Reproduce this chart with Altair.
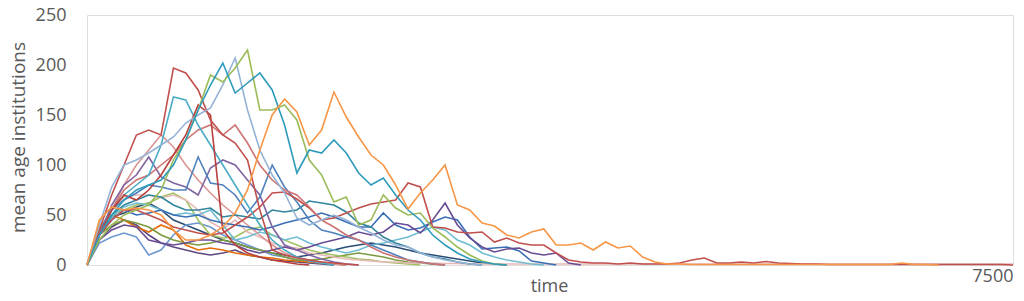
import altair as alt
import pandas as pd

STEP = 100  # time units between samples

# series values (mean age institutions), sampled every 100 time units
dpurple = [0, 25, 38, 45, 40, 30, 22, 18, 15, 12, 10, 12, 15, 10, 8, 5, 4, 3, 2, 1, 0]
dkblue = [0, 32, 48, 52, 58, 62, 55, 45, 40, 35, 30, 25, 22, 18, 15, 12, 10, 8, 10, 12, 15, 18, 20, 22, 20, 18, 15, 12, 10, 8, 6, 4, 2, 1, 0]
lblue = [0, 22, 28, 32, 28, 10, 15, 30, 40, 42, 38, 30, 25, 20, 15, 10, 8, 5, 3, 2, 1, 0]
dorange = [0, 38, 50, 45, 38, 33, 40, 35, 20, 15, 17, 15, 12, 10, 8, 7, 5, 4, 3, 2, 1, 0]
green3 = [0, 30, 40, 45, 42, 38, 30, 25, 22, 20, 22, 25, 22, 18, 15, 12, 8, 5, 5, 6, 8, 10, 12, 10, 8, 5, 3, 2, 1, 0]
green2 = [0, 35, 50, 55, 60, 62, 68, 72, 65, 45, 30, 27, 28, 35, 38, 30, 25, 20, 15, 12, 10, 8, 6, 5, 3, 2, 1, 0]
lpink = [0, 35, 55, 68, 70, 70, 67, 70, 65, 55, 43, 36, 45, 33, 28, 22, 18, 17, 12, 10, 8, 6, 5, 4, 3, 3, 2, 2, 2, 1.5,
         1.5, 1, 1, 1, 1, 1, 1, 1, 1, 1, 1, 1, 1, 1, 1, 1, 1, 1, 1, 1, 1, 1, 1, 1, 1, 1, 1, 1, 1, 1,
         1, 1, 1, 1, 1, 1, 1, 1, 1, 1, 1, 1, 1, 1, 1, 1]
laqua = [0, 30, 48, 58, 62, 60, 55, 50, 52, 50, 55, 40, 25, 28, 33, 30, 25, 28, 22, 18, 15, 12, 15, 20, 22, 25, 28, 33, 38, 35, 25, 20, 12, 8, 5, 3, 1, 0]
pink = [0, 30, 55, 80, 100, 115, 130, 118, 100, 85, 72, 60, 50, 40, 30, 20, 12, 8, 5, 3, 1, 0]
blue2 = [0, 30, 45, 55, 50, 52, 55, 50, 48, 50, 45, 42, 40, 38, 35, 38, 42, 45, 48, 52, 48, 43, 38, 38, 52, 40, 35, 37, 43, 48, 45, 28, 16, 17, 18, 14, 4, 2, 0]
dteal = [0, 30, 50, 60, 65, 70, 68, 60, 55, 55, 57, 48, 50, 48, 46, 55, 53, 55, 64, 62, 60, 53, 42, 38, 28, 22, 18, 12, 8, 6, 3, 1, 0]
purple2 = [0, 25, 35, 40, 38, 25, 22, 20, 22, 25, 25, 22, 20, 15, 12, 15, 18, 15, 18, 22, 25, 28, 33, 30, 33, 42, 40, 32, 45, 62, 40, 27, 18, 13, 16, 17, 12, 10, 12, 2, 0]
purple1 = [0, 30, 60, 80, 90, 108, 88, 82, 78, 70, 97, 105, 100, 85, 70, 38, 20, 15, 10, 6, 3, 1, 0]
blue1 = [0, 35, 55, 65, 72, 80, 78, 75, 75, 108, 82, 80, 70, 52, 68, 100, 78, 63, 45, 35, 32, 28, 25, 20, 15, 10, 5, 3, 1, 0]
red3 = [0, 30, 45, 55, 55, 50, 45, 38, 35, 32, 30, 32, 40, 48, 58, 72, 73, 66, 57, 45, 47, 52, 57, 61, 63, 65, 82, 78, 38, 37,
        33, 32, 33, 23, 27, 22, 20, 20, 12, 5, 3, 2, 2, 1, 2, 1, 1, 1, 2, 5, 7, 2, 2, 3, 2, 3.5, 2, 1.5, 1, 1,
        0.5, 0.5, 0.5, 0.5, 0.5, 0.5, 0.5, 0.5, 0.5, 0.5, 0.5, 0.5, 0.5, 0.5, 0.5, 0]
rose = [0, 30, 55, 75, 85, 90, 100, 110, 125, 135, 140, 130, 140, 122, 100, 85, 75, 70, 58, 45, 38, 30, 25, 18, 12, 8, 5, 3, 1, 0]
teal1 = [0, 30, 55, 70, 80, 90, 120, 168, 165, 140, 120, 100, 80, 60, 40, 25, 15, 8, 4, 2, 0]
red2 = [0, 30, 55, 70, 65, 75, 90, 110, 130, 160, 150, 35, 20, 12, 8, 5, 3, 1, 0]
red1 = [0, 35, 70, 100, 130, 135, 130, 197, 192, 175, 145, 130, 122, 105, 55, 15, 10, 7, 5, 3, 2, 1, 0]
lav = [0, 40, 78, 100, 105, 112, 120, 128, 142, 150, 157, 180, 207, 155, 115, 90, 72, 47, 40, 45, 50, 45, 38, 32, 25, 20, 18, 12, 8, 5, 3, 1, 0]
green1 = [0, 25, 40, 50, 55, 60, 75, 105, 125, 155, 190, 183, 197, 215, 155, 155, 160, 145, 105, 90, 63, 68, 40, 45, 70, 57, 50, 52, 37, 28, 18, 10, 4, 1, 0]
teal2 = [0, 30, 50, 65, 75, 80, 85, 100, 125, 155, 180, 202, 172, 182, 192, 175, 140, 92, 115, 112, 125, 112, 92, 80, 87, 70, 55, 45, 30, 20, 12, 6, 3, 1, 0]
orange = [0, 45, 58, 55, 57, 55, 50, 35, 25, 25, 30, 38, 52, 75, 115, 150, 166, 153, 120, 135, 173, 148, 128, 110, 100, 80, 56, 72, 85, 100,
          60, 55, 42, 39, 30, 27, 33, 36, 20, 20, 22, 15, 23, 17, 19, 8, 3, 1, 1, 0.5, 0.5, 0.5, 0.5, 0.5, 0.5, 0.5, 0.5, 0.5, 0.5, 0.5,
          0.5, 0.5, 0.5, 0.5, 0.5, 0.5, 2, 0.5, 0.5, 0]

series = [
    ("s01", "#5E4780", dpurple),
    ("s02", "#2C4D75", dkblue),
    ("s03", "#6F98D0", lblue),
    ("s04", "#E46C0A", dorange),
    ("s05", "#7C9A3E", green3),
    ("s06", "#A3C163", green2),
    ("s07", "#E6B9B8", lpink),
    ("s08", "#6FBDD1", laqua),
    ("s09", "#D99694", pink),
    ("s10", "#3A6FB5", blue2),
    ("s11", "#31859C", dteal),
    ("s12", "#6A4C93", purple2),
    ("s13", "#8064A2", purple1),
    ("s14", "#4F81BD", blue1),
    ("s15", "#C0504D", red3),
    ("s16", "#CD7371", rose),
    ("s17", "#4BACC6", teal1),
    ("s18", "#B8403C", red2),
    ("s19", "#C0504D", red1),
    ("s20", "#95B3D7", lav),
    ("s21", "#9BBB59", green1),
    ("s22", "#2E9BBA", teal2),
    ("s23", "#F79646", orange),
]

rows = []
for name, _, vals in series:
    for i, v in enumerate(vals):
        rows.append({"series": name, "time": i * STEP, "value": v})
df = pd.DataFrame(rows)

names = [s[0] for s in series]
colors = [s[1] for s in series]

FONT = "Open Sans"
GRAY = "#595959"

chart = alt.Chart(df).mark_line(strokeWidth=1.6).encode(
    x=alt.X(
        "time:Q",
        scale=alt.Scale(domain=[0, 7500], nice=False, zero=True),
        axis=alt.Axis(
            values=[7500], format="d", title="time", grid=False, ticks=False, tickSize=0, domain=False,
            labelAlign="right", labelBaseline="top", labelPadding=2,
            labelFontSize=18, labelColor=GRAY, labelFont=FONT,
            titleFontSize=18, titleColor=GRAY, titleFont=FONT, titleFontWeight="normal",
            titleX=462, titleY=26, titleBaseline="alphabetic", titleAlign="center",
        ),
    ),
    y=alt.Y(
        "value:Q",
        scale=alt.Scale(domain=[0, 250], nice=False),
        axis=alt.Axis(
            values=[0, 50, 100, 150, 200, 250], title="mean age institutions",
            grid=False, ticks=False, tickSize=0, domain=False,
            labelPadding=21, labelFontSize=18, labelColor=GRAY, labelFont=FONT,
            titleFontSize=19, titleColor=GRAY, titleFont=FONT, titleFontWeight="normal",
            titleX=-69, titleY=122, titleBaseline="middle", titleAlign="center", titleAngle=270,
        ),
    ),
    color=alt.Color("series:N", scale=alt.Scale(domain=names, range=colors), legend=None),
).properties(
    width=926,
    height=250,
    autosize=alt.AutoSizeParams(type="none"),
    padding={"left": 79, "top": 7, "right": 3, "bottom": 28},
).configure_view(
    stroke="#BFBFBF", strokeWidth=1.5
).configure(background="white")

chart.save("out.html", embed_options={"renderer": "svg", "actions": False})
